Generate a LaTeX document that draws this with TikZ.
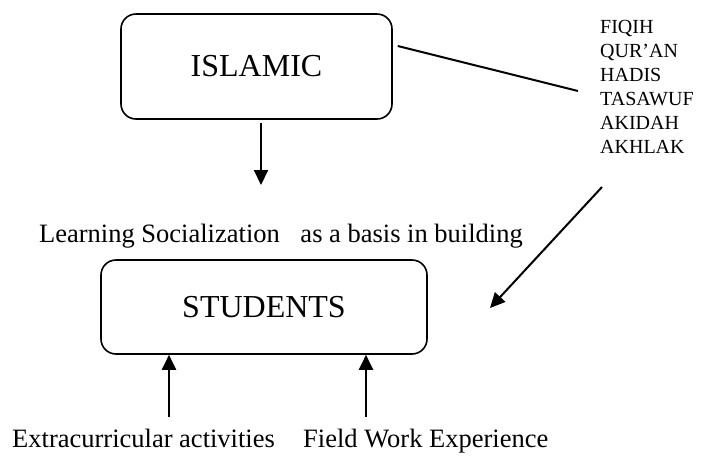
\documentclass[tikz,border=0pt]{standalone}
\usepackage{fontspec}
\setmainfont{Liberation Serif}
\usetikzlibrary{arrows.meta}
\tikzset{
  box/.style={draw, line width=1.6pt, rounded corners=15pt, inner sep=0pt, font=\fontsize{32}{36}\selectfont},
  arr/.style={line width=2pt, -{Triangle[length=15pt,width=14pt]}},
  conn/.style={line width=2pt},
  lbl/.style={inner sep=0pt, font=\fontsize{26.5}{30}\selectfont},
  listtext/.style={inner sep=0pt, align=left, font=\fontsize{20}{24}\selectfont},
}
\begin{document}
\begin{tikzpicture}[x=1pt,y=-1pt]
\useasboundingbox (0,0) rectangle (702,459);
\node[box, minimum width=271pt, minimum height=105pt] (islamic) at (256.5,66.5) {ISLAMIC};
\node[box, minimum width=326pt, minimum height=94pt] (students) at (264,307) {\raisebox{-3pt}{STUDENTS}};
\node[listtext, anchor=north west] (list) at (600,19.8) {FIQIH\\QUR'AN\\HADIS\\TASAWUF\\AKIDAH\\AKHLAK};
\node[lbl, anchor=base west] (learn) at (39,242) {Learning Socialization\hspace{14pt} as a basis in building};
\node[lbl, anchor=base west] (extra) at (12,447) {Extracurricular activities};
\node[lbl, anchor=base west] (field) at (303,447) {Field Work Experience};
\coordinate (lineEnd) at (578,91);
\coordinate (downEnd) at (261,185);
\coordinate (diagStart) at (602,187);
\coordinate (diagEnd) at (490,308);
\coordinate (up1) at (169,417);
\coordinate (up2) at (366,417);
\draw[conn] ([shift={(5,-20.5)}]islamic.east) -- (lineEnd);
\draw[arr] ([xshift=4.5pt,yshift=-3pt]islamic.south) -- (downEnd);
\draw[arr] (diagStart) -- (diagEnd);
\draw[arr] (up1) -- (up1 |- students.south);
\draw[arr] (up2) -- (up2 |- students.south);
\end{tikzpicture}
\end{document}
